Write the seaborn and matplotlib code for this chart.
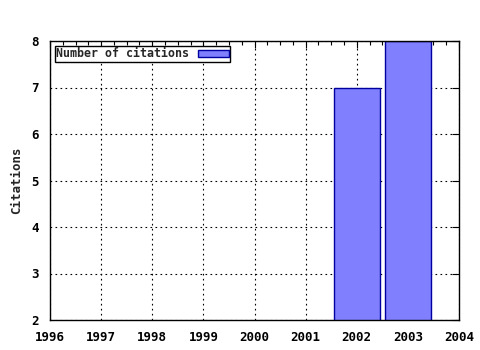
import matplotlib
matplotlib.use("Agg")
import matplotlib.pyplot as plt
import seaborn as sns
import pandas as pd
from matplotlib.ticker import MultipleLocator

years = [2002, 2003]
citations = [7, 8]
series_label = "Number of citations"
x_ticks = [1996, 1997, 1998, 1999, 2000, 2001, 2002, 2003, 2004]
y_ticks = [2, 3, 4, 5, 6, 7, 8]

sns.set_style("white")
plt.rcParams['font.family'] = ['DejaVu Sans Mono', 'DejaVu Sans']

df = pd.DataFrame({"year": years, "citations": citations})

fig = plt.figure(figsize=(4.8, 3.5), dpi=100)
ax = fig.add_axes([50/480, 30/350, 409/480, 279/350])

sns.barplot(data=df, x="year", y="citations", native_scale=True, width=0.9,
            color="#8080ff", saturation=1, edgecolor="#0000a0", linewidth=1,
            label=series_label, ax=ax)

ax.set_xlim(1996, 2004)
ax.set_ylim(2, 8)
ax.set_xticks(x_ticks)
ax.set_xticklabels([str(t) for t in x_ticks])
ax.set_yticks(y_ticks)
ax.xaxis.set_minor_locator(MultipleLocator(0.25))
ax.tick_params(which="both", direction="in", top=True, right=True,
               labelsize=9, colors="black", width=0.8)
ax.tick_params(axis="x", which="major", length=5, pad=8)
ax.tick_params(axis="y", which="major", length=5, pad=8)
ax.tick_params(which="minor", length=3)
for lab in ax.get_xticklabels() + ax.get_yticklabels():
    lab.set_fontweight("bold")
ax.grid(True, which="major", linestyle=(0, (1.5, 3)), color="black", linewidth=0.8)
ax.set_axisbelow(True)
for s in ax.spines.values():
    s.set_color("black")
    s.set_linewidth(1)
ax.set_xlabel("")
ax.set_ylabel("Citations", fontsize=9, fontweight="bold", labelpad=6)

leg = ax.legend(loc="upper left", markerfirst=False, fancybox=False,
                framealpha=1, edgecolor="black", fontsize=8.4,
                borderpad=0.1, handlelength=2.7, handleheight=0.55,
                handletextpad=0.7, borderaxespad=0.45)
leg.get_frame().set_linewidth(1)
for t in leg.get_texts():
    t.set_fontweight("bold")

fig.savefig("out.png", dpi=100)
